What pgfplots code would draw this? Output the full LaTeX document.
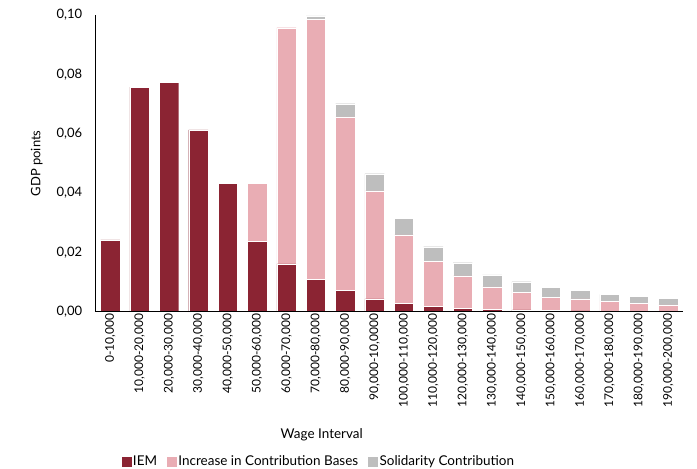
\documentclass[border=0pt]{standalone}
\usepackage{pgfplots}
\pgfplotsset{compat=1.18}
\usepackage{fontspec}
\setmainfont{Lato}
\definecolor{iem}{HTML}{8B2433}
\definecolor{inc}{HTML}{E9ADB4}
\definecolor{sol}{HTML}{BEBEBE}
\begin{document}
\begin{tikzpicture}[x=1pt,y=1pt]
\begin{axis}[
  name=ax,
  scale only axis,
  width=588pt, height=297pt,
  ybar stacked,
  bar width=0.66,
  xmin=-0.5, xmax=19.5,
  ymin=0, ymax=0.1,
  axis on top,
  axis x line=bottom, axis y line=left,
  axis line style={-, black, line width=0.8pt},
  major tick length=0pt,
  xtick={0,...,19},
  xticklabels={{0-10,000},{10,000-20,000},{20,000-30,000},{30,000-40,000},{40,000-50,000},{50,000-60,000},{60,000-70,000},{70,000-80,000},{80,000-90,000},{90,000-10,0000},{100,000-110,000},{110,000-120,000},{120,000-130,000},{130,000-140,000},{140,000-150,000},{150,000-160,000},{160,000-170,000},{170,000-180,000},{180,000-190,000},{190,000-200,000}},
  xticklabel style={rotate=90, anchor=east, font=\fontsize{12}{14}\selectfont, inner sep=2pt},
  ytick={0,0.02,0.04,0.06,0.08,0.1},
  yticklabel style={font=\fontsize{13}{15}\selectfont, /pgf/number format/.cd, fixed, fixed zerofill, precision=2, use comma, assume math mode=true},
  yticklabel shift=10pt,
  scaled y ticks=false,
  ylabel={GDP points},
  ylabel style={at={(axis description cs:-0.1,0.5)}, anchor=center, font=\fontsize{13}{15}\selectfont},
  xlabel={Wage Interval},
  xlabel style={at={(axis description cs:0.385,0)}, anchor=center, yshift=-123pt, font=\fontsize{13.5}{15}\selectfont},
  legend style={at={(axis description cs:0.38,-0.505)}, anchor=center, draw=none, legend columns=-1, font=\fontsize{13.5}{15}\selectfont, /tikz/every even column/.append style={column sep=8pt}},
  legend cell align=left,
  every axis plot/.append style={draw=white, line width=0.4pt},
]
\addplot[fill=iem, legend image code/.code={\fill[iem] (0pt,-4.5pt) rectangle (9pt,4.5pt);}] coordinates {
(0,0.0242) (1,0.0757) (2,0.0773) (3,0.0613) (4,0.0432) (5,0.0238) (6,0.0161) (7,0.0110) (8,0.0071) (9,0.0043)
(10,0.0027) (11,0.0018) (12,0.0012) (13,0.0009) (14,0.0006) (15,0.0004) (16,0.0003) (17,0.0002) (18,0.0002) (19,0.0001)};
\addplot[fill=inc, legend image code/.code={\fill[inc] (0pt,-4.5pt) rectangle (9pt,4.5pt);}] coordinates {
(0,0) (1,0) (2,0) (3,0) (4,0) (5,0.0194) (6,0.0796) (7,0.0875) (8,0.0586) (9,0.0364)
(10,0.0232) (11,0.0151) (12,0.0109) (13,0.0075) (14,0.0059) (15,0.0045) (16,0.0040) (17,0.0032) (18,0.0027) (19,0.0022)};
\addplot[fill=sol, legend image code/.code={\fill[sol] (0pt,-4.5pt) rectangle (9pt,4.5pt);}] coordinates {
(0,0) (1,0) (2,0) (3,0) (4,0) (5,0) (6,0) (7,0.0012) (8,0.0044) (9,0.0058)
(10,0.0056) (11,0.0050) (12,0.0044) (13,0.0040) (14,0.0036) (15,0.0032) (16,0.0030) (17,0.0024) (18,0.0023) (19,0.0022)};
\legend{IEM, Increase in Contribution Bases, Solidarity Contribution}
\end{axis}
\pgfresetboundingbox
\path ([xshift=-95.7pt,yshift=-157pt]ax.south west) rectangle ([xshift=14pt,yshift=15pt]ax.north east);
\end{tikzpicture}
\end{document}
